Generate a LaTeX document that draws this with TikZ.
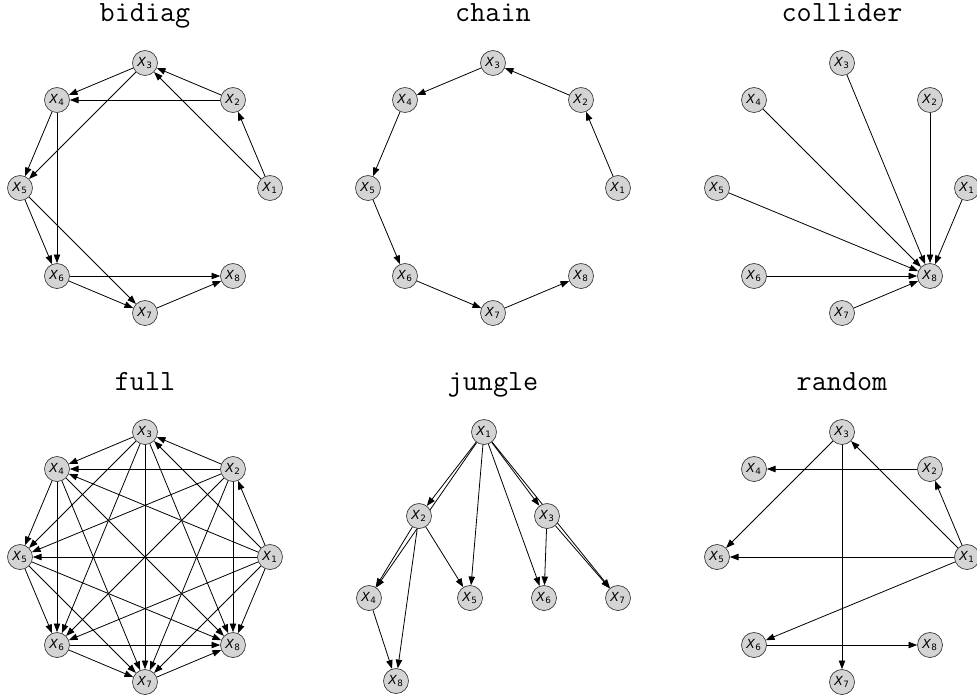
\documentclass[tikz,border=0pt]{standalone}
\usepackage{fontspec}
\setsansfont{DejaVu Sans}
\usetikzlibrary{arrows.meta, backgrounds}

\begin{document}
\begin{tikzpicture}[
    x=0.75pt, y=-0.75pt,
    var/.style={draw=black!80, fill=black!17, circle, minimum size=18.75pt, inner sep=0pt, line width=0.5pt, font=\sffamily\fontsize{9.4}{10}\selectfont},
    title/.style={font=\ttfamily\fontsize{22}{26}\selectfont, anchor=base},
    arrow/.style={-{Triangle[length=6.5pt, width=4.8pt]}, line width=0.6pt}
  ]

  \useasboundingbox (0,0) rectangle (977,694);

  % bidiag (top left)
  \node[title] at (145,21) {bidiag};

  \node[var] (bidiag_1) at (270,188) {\textit{X}\textsubscript{1}};
  \node[var] (bidiag_2) at (233,100) {\textit{X}\textsubscript{2}};
  \node[var] (bidiag_3) at (145,63) {\textit{X}\textsubscript{3}};
  \node[var] (bidiag_4) at (57,100) {\textit{X}\textsubscript{4}};
  \node[var] (bidiag_5) at (20,188) {\textit{X}\textsubscript{5}};
  \node[var] (bidiag_6) at (57,276) {\textit{X}\textsubscript{6}};
  \node[var] (bidiag_7) at (145,313) {\textit{X}\textsubscript{7}};
  \node[var] (bidiag_8) at (233,276) {\textit{X}\textsubscript{8}};

  \begin{pgfonlayer}{background}
  \draw[arrow] (bidiag_1) -- (bidiag_2);
  \draw[arrow] (bidiag_1) -- (bidiag_3);
  \draw[arrow] (bidiag_2) -- (bidiag_3);
  \draw[arrow] (bidiag_2) -- (bidiag_4);
  \draw[arrow] (bidiag_3) -- (bidiag_4);
  \draw[arrow] (bidiag_3) -- (bidiag_5);
  \draw[arrow] (bidiag_4) -- (bidiag_5);
  \draw[arrow] (bidiag_4) -- (bidiag_6);
  \draw[arrow] (bidiag_5) -- (bidiag_6);
  \draw[arrow] (bidiag_5) -- (bidiag_7);
  \draw[arrow] (bidiag_6) -- (bidiag_7);
  \draw[arrow] (bidiag_6) -- (bidiag_8);
  \draw[arrow] (bidiag_7) -- (bidiag_8);
  \end{pgfonlayer}

  % chain (top middle)
  \node[title] at (493,21) {chain};

  \node[var] (chain_1) at (618,188) {\textit{X}\textsubscript{1}};
  \node[var] (chain_2) at (581,100) {\textit{X}\textsubscript{2}};
  \node[var] (chain_3) at (493,63) {\textit{X}\textsubscript{3}};
  \node[var] (chain_4) at (405,100) {\textit{X}\textsubscript{4}};
  \node[var] (chain_5) at (368,188) {\textit{X}\textsubscript{5}};
  \node[var] (chain_6) at (405,276) {\textit{X}\textsubscript{6}};
  \node[var] (chain_7) at (493,313) {\textit{X}\textsubscript{7}};
  \node[var] (chain_8) at (581,276) {\textit{X}\textsubscript{8}};

  \begin{pgfonlayer}{background}
  \draw[arrow] (chain_1) -- (chain_2);
  \draw[arrow] (chain_2) -- (chain_3);
  \draw[arrow] (chain_3) -- (chain_4);
  \draw[arrow] (chain_4) -- (chain_5);
  \draw[arrow] (chain_5) -- (chain_6);
  \draw[arrow] (chain_6) -- (chain_7);
  \draw[arrow] (chain_7) -- (chain_8);
  \end{pgfonlayer}

  % collider (top right)
  \node[title] at (842,21) {collider};

  \node[var] (collider_1) at (967,188) {\textit{X}\textsubscript{1}};
  \node[var] (collider_2) at (930,100) {\textit{X}\textsubscript{2}};
  \node[var] (collider_3) at (842,63) {\textit{X}\textsubscript{3}};
  \node[var] (collider_4) at (754,100) {\textit{X}\textsubscript{4}};
  \node[var] (collider_5) at (717,188) {\textit{X}\textsubscript{5}};
  \node[var] (collider_6) at (754,276) {\textit{X}\textsubscript{6}};
  \node[var] (collider_7) at (842,313) {\textit{X}\textsubscript{7}};
  \node[var] (collider_8) at (930,276) {\textit{X}\textsubscript{8}};

  \begin{pgfonlayer}{background}
  \draw[arrow] (collider_1) -- (collider_8);
  \draw[arrow] (collider_2) -- (collider_8);
  \draw[arrow] (collider_3) -- (collider_8);
  \draw[arrow] (collider_4) -- (collider_8);
  \draw[arrow] (collider_5) -- (collider_8);
  \draw[arrow] (collider_6) -- (collider_8);
  \draw[arrow] (collider_7) -- (collider_8);
  \end{pgfonlayer}

  % full (bottom left)
  \node[title] at (145,390) {full};

  \node[var] (full_1) at (270,557) {\textit{X}\textsubscript{1}};
  \node[var] (full_2) at (233,469) {\textit{X}\textsubscript{2}};
  \node[var] (full_3) at (145,432) {\textit{X}\textsubscript{3}};
  \node[var] (full_4) at (57,469) {\textit{X}\textsubscript{4}};
  \node[var] (full_5) at (20,557) {\textit{X}\textsubscript{5}};
  \node[var] (full_6) at (57,645) {\textit{X}\textsubscript{6}};
  \node[var] (full_7) at (145,682) {\textit{X}\textsubscript{7}};
  \node[var] (full_8) at (233,645) {\textit{X}\textsubscript{8}};

  \begin{pgfonlayer}{background}
  \draw[arrow] (full_1) -- (full_2);
  \draw[arrow] (full_1) -- (full_3);
  \draw[arrow] (full_1) -- (full_4);
  \draw[arrow] (full_1) -- (full_5);
  \draw[arrow] (full_1) -- (full_6);
  \draw[arrow] (full_1) -- (full_7);
  \draw[arrow] (full_1) -- (full_8);
  \draw[arrow] (full_2) -- (full_3);
  \draw[arrow] (full_2) -- (full_4);
  \draw[arrow] (full_2) -- (full_5);
  \draw[arrow] (full_2) -- (full_6);
  \draw[arrow] (full_2) -- (full_7);
  \draw[arrow] (full_2) -- (full_8);
  \draw[arrow] (full_3) -- (full_4);
  \draw[arrow] (full_3) -- (full_5);
  \draw[arrow] (full_3) -- (full_6);
  \draw[arrow] (full_3) -- (full_7);
  \draw[arrow] (full_3) -- (full_8);
  \draw[arrow] (full_4) -- (full_5);
  \draw[arrow] (full_4) -- (full_6);
  \draw[arrow] (full_4) -- (full_7);
  \draw[arrow] (full_4) -- (full_8);
  \draw[arrow] (full_5) -- (full_6);
  \draw[arrow] (full_5) -- (full_7);
  \draw[arrow] (full_5) -- (full_8);
  \draw[arrow] (full_6) -- (full_7);
  \draw[arrow] (full_6) -- (full_8);
  \draw[arrow] (full_7) -- (full_8);
  \end{pgfonlayer}

  % jungle (bottom middle)
  \node[title] at (493,390) {jungle};

  \node[var] (jungle_1) at (484,432) {\textit{X}\textsubscript{1}};
  \node[var] (jungle_2) at (419,516) {\textit{X}\textsubscript{2}};
  \node[var] (jungle_3) at (547,516) {\textit{X}\textsubscript{3}};
  \node[var] (jungle_4) at (369,598) {\textit{X}\textsubscript{4}};
  \node[var] (jungle_5) at (470,598) {\textit{X}\textsubscript{5}};
  \node[var] (jungle_6) at (544,598) {\textit{X}\textsubscript{6}};
  \node[var] (jungle_7) at (618,598) {\textit{X}\textsubscript{7}};
  \node[var] (jungle_8) at (396,681) {\textit{X}\textsubscript{8}};

  \begin{pgfonlayer}{background}
  \draw[arrow] (jungle_1) -- (jungle_2);
  \draw[arrow] (jungle_1) -- (jungle_3);
  \draw[arrow] (jungle_1) -- (jungle_4);
  \draw[arrow] (jungle_1) -- (jungle_5);
  \draw[arrow] (jungle_1) -- (jungle_6);
  \draw[arrow] (jungle_1) -- (jungle_7);
  \draw[arrow] (jungle_2) -- (jungle_4);
  \draw[arrow] (jungle_2) -- (jungle_5);
  \draw[arrow] (jungle_2) -- (jungle_8);
  \draw[arrow] (jungle_3) -- (jungle_6);
  \draw[arrow] (jungle_3) -- (jungle_7);
  \draw[arrow] (jungle_4) -- (jungle_8);
  \end{pgfonlayer}

  % random (bottom right)
  \node[title] at (842,390) {random};

  \node[var] (random_1) at (967,557) {\textit{X}\textsubscript{1}};
  \node[var] (random_2) at (930,469) {\textit{X}\textsubscript{2}};
  \node[var] (random_3) at (842,432) {\textit{X}\textsubscript{3}};
  \node[var] (random_4) at (754,469) {\textit{X}\textsubscript{4}};
  \node[var] (random_5) at (717,557) {\textit{X}\textsubscript{5}};
  \node[var] (random_6) at (754,645) {\textit{X}\textsubscript{6}};
  \node[var] (random_7) at (842,682) {\textit{X}\textsubscript{7}};
  \node[var] (random_8) at (930,645) {\textit{X}\textsubscript{8}};

  \begin{pgfonlayer}{background}
  \draw[arrow] (random_1) -- (random_2);
  \draw[arrow] (random_1) -- (random_3);
  \draw[arrow] (random_1) -- (random_5);
  \draw[arrow] (random_1) -- (random_6);
  \draw[arrow] (random_2) -- (random_4);
  \draw[arrow] (random_3) -- (random_5);
  \draw[arrow] (random_3) -- (random_7);
  \draw[arrow] (random_6) -- (random_8);
  \end{pgfonlayer}

\end{tikzpicture}
\end{document}
